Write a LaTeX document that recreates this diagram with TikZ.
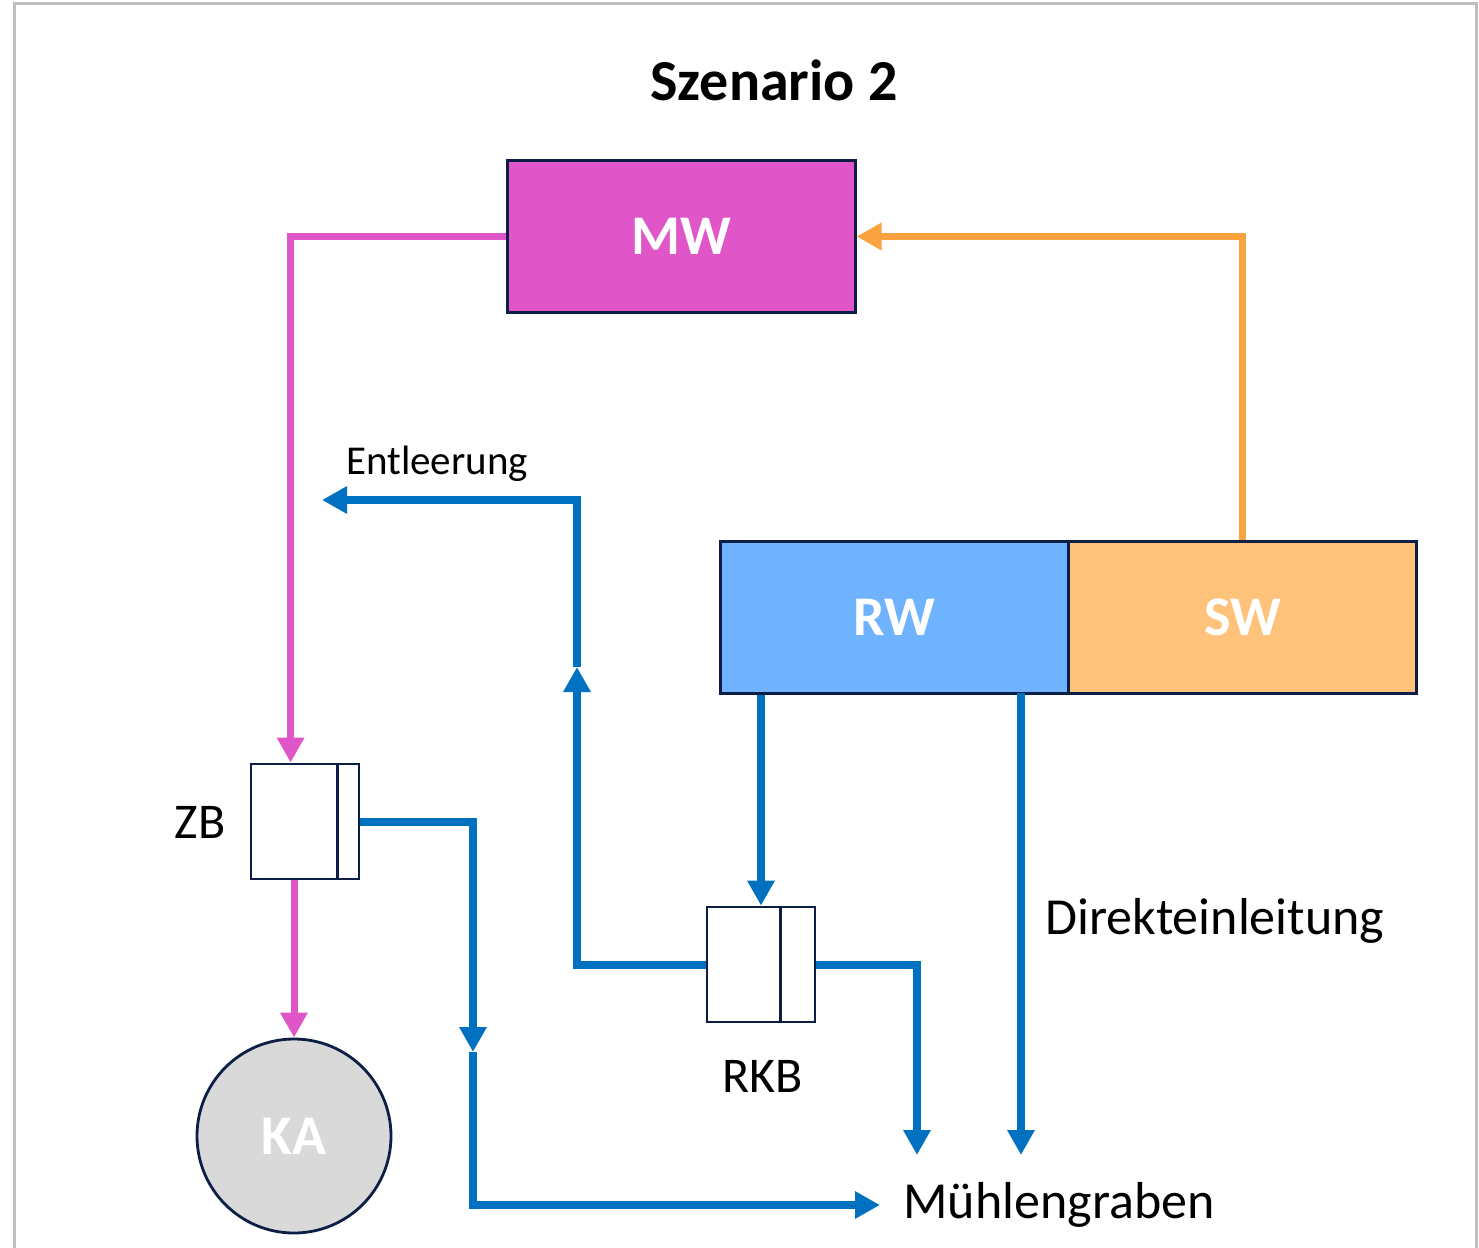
\documentclass[tikz,border=0pt]{standalone}
\usepackage{fontspec}
\setmainfont{Carlito}
\usetikzlibrary{arrows.meta,calc}
\definecolor{mwfill}{HTML}{E056C8}
\definecolor{magline}{HTML}{E056C8}
\definecolor{orangeline}{HTML}{F9A23F}
\definecolor{swfill}{HTML}{FFC27A}
\definecolor{rwfill}{HTML}{6FB3FF}
\definecolor{blueline}{HTML}{0070C0}
\definecolor{navy}{HTML}{0C1E45}
\definecolor{kafill}{HTML}{D9D9D9}
\definecolor{framegray}{HTML}{BFBFBF}
\tikzset{
  bigbox/.style={draw=navy, line width=1.5pt, minimum width=174pt, minimum height=76pt, inner sep=0pt, text=white, font=\fontsize{28}{34}\selectfont\bfseries},
  smallbox/.style={draw=navy, line width=1.4pt, minimum width=54pt, minimum height=57.5pt, inner sep=0pt, fill=white},
  tipshape/.style={-{Triangle[length=12.5pt,width=13pt]}},
  bluearrow/.style={draw=blueline, line width=4pt},
  magarrow/.style={draw=magline, line width=3.5pt},
  orarrow/.style={draw=orangeline, line width=3.2pt},
  lbl/.style={inner sep=0pt, font=\fontsize{25}{30}\selectfont},
  biglbl/.style={inner sep=0pt, font=\fontsize{26}{31}\selectfont},
}
\begin{document}
\begin{tikzpicture}[x=0.5pt,y=-0.5pt]
\useasboundingbox (0,0) rectangle (1479,1248);
\draw[framegray, line width=1.5pt] (14,1250) -- (14,3) -- (1476,3) -- (1476,1250);

\node[inner sep=0pt, font=\fontsize{29}{35}\selectfont\bfseries] (title) at (774,80) {Szenario 2};

\node[bigbox, fill=mwfill] (MW) at (681,236.5) {MW};
\node[bigbox, fill=rwfill] (RW) at (894,617) {RW};
\node[bigbox, fill=swfill] (SW) at (1242.5,617) {SW};

\node[smallbox] (ZB) at (305,821.5) {};
\draw[navy, line width=1.1pt] ($(ZB.north east)+(-23,0)$) -- ($(ZB.south east)+(-23,0)$);
\node[lbl, anchor=east] (ZBl) at (226,822) {ZB};

\node[smallbox] (RKB) at (761,964.5) {};
\draw[navy, line width=1.1pt] ($(RKB.north east)+(-36,0)$) -- ($(RKB.south east)+(-36,0)$);
\node[lbl] (RKBl) at (763,1076) {RKB};

\node[circle, draw=navy, line width=1.4pt, fill=kafill, minimum size=97pt, inner sep=0pt, text=white, font=\fontsize{28}{34}\selectfont\bfseries] (KA) at (294,1136) {KA};

\node[inner sep=0pt, font=\fontsize{20.5}{25}\selectfont] (ent) at (437,464) {Entleerung};
\node[biglbl, anchor=west] (dir) at (1045,921) {Direkteinleitung};
\node[biglbl, anchor=west, inner xsep=11.5pt, inner ysep=0pt] (MG) at (880,1205) {Mühlengraben};

% coordinates
\coordinate (zbin) at ($(ZB.north west)+(41,0)$);
\coordinate (entend) at (322,500);
\coordinate (entcorner) at (577,500);
\coordinate (entmid) at (577,667);
\coordinate (zbmid) at (473,1052);
\coordinate (zbcorner) at (473,1205);
\coordinate (dtop) at (1021,693);
\coordinate (dend) at (1021,1155);
\coordinate (rkbend) at (917,1155);

% magenta
\draw[magarrow, tipshape, magline] (MW.west) -| (zbin);
\draw[magarrow, tipshape, magline] (ZB.south -| KA.north) -- (KA.north);
% orange
\draw[orarrow, tipshape, orangeline] (SW.north) |- (MW.east);
% blue
\draw[bluearrow, tipshape, blueline] (RKB.north |- RW.south) -- (RKB.north);
\draw[bluearrow, tipshape, blueline] (dtop) -- (dend);
\draw[bluearrow, tipshape, blueline] (RKB.east) -| (rkbend);
\draw[bluearrow, tipshape, blueline] (RKB.west) -| (entmid);
\draw[bluearrow, tipshape, blueline] (entmid) -- (entcorner) -- (entend);
\draw[bluearrow, tipshape, blueline] (ZB.east) -| (zbmid);
\draw[bluearrow, tipshape, blueline] (zbmid) -- (zbcorner) -- (MG.west);
\end{tikzpicture}
\end{document}
